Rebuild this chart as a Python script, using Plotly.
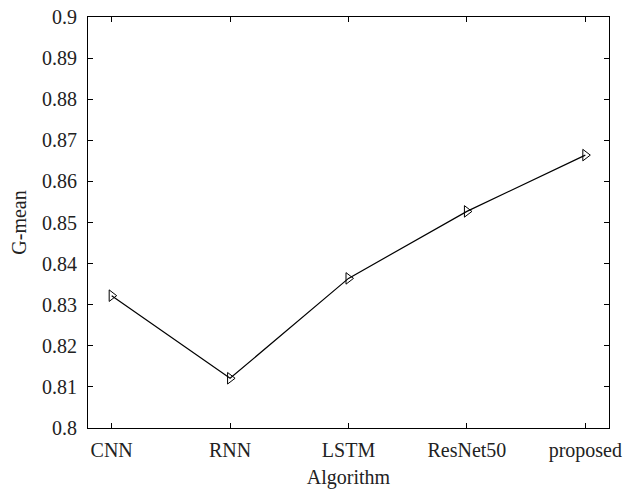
import plotly.graph_objects as go

algorithms = ["CNN", "RNN", "LSTM", "ResNet50", "proposed"]
g_mean = [0.8322, 0.8121, 0.8364, 0.8527, 0.8664]
y_ticks = [0.8, 0.81, 0.82, 0.83, 0.84, 0.85, 0.86, 0.87, 0.88, 0.89, 0.9]
y_tick_labels = ["0.8", "0.81", "0.82", "0.83", "0.84", "0.85", "0.86", "0.87", "0.88", "0.89", "0.9"]

x_idx = list(range(len(algorithms)))

fig = go.Figure()
fig.add_trace(go.Scatter(
    x=x_idx, y=g_mean, mode="lines+markers",
    line=dict(color="black", width=1.2),
    marker=dict(symbol="triangle-right-open", size=10, color="black", line=dict(width=1)),
    showlegend=False,
))

font = dict(family="Liberation Serif, DejaVu Serif, serif", size=20, color="#222")

fig.update_layout(
    width=626, height=491,
    margin=dict(l=88, r=17, t=17, b=63, pad=0),
    paper_bgcolor="white", plot_bgcolor="white",
    font=font,
)
fig.update_xaxes(
    range=[-0.2, 4.2], tickmode="array", tickvals=x_idx, ticktext=algorithms,
    ticks="inside", ticklen=5, tickcolor="black",
    showline=True, linecolor="black", linewidth=1.2, mirror="ticks",
    showgrid=False, zeroline=False, automargin=False,
    tickfont=font, ticklabelstandoff=4,
    title=dict(text="Algorithm", standoff=8, font=font),
)
fig.update_yaxes(
    range=[0.8, 0.9], tickmode="array", tickvals=y_ticks, ticktext=y_tick_labels,
    ticks="inside", ticklen=5, tickcolor="black",
    showline=True, linecolor="black", linewidth=1.2, mirror="ticks",
    showgrid=False, zeroline=False, automargin=False,
    tickfont=font, ticklabelstandoff=6,
    title=dict(text="G-mean", standoff=9, font=font),
)

fig.write_html("out.html", include_plotlyjs=True,
               config={"responsive": False, "displayModeBar": False},
               post_script="document.body.style.margin='0';document.body.style.overflow='hidden';")
